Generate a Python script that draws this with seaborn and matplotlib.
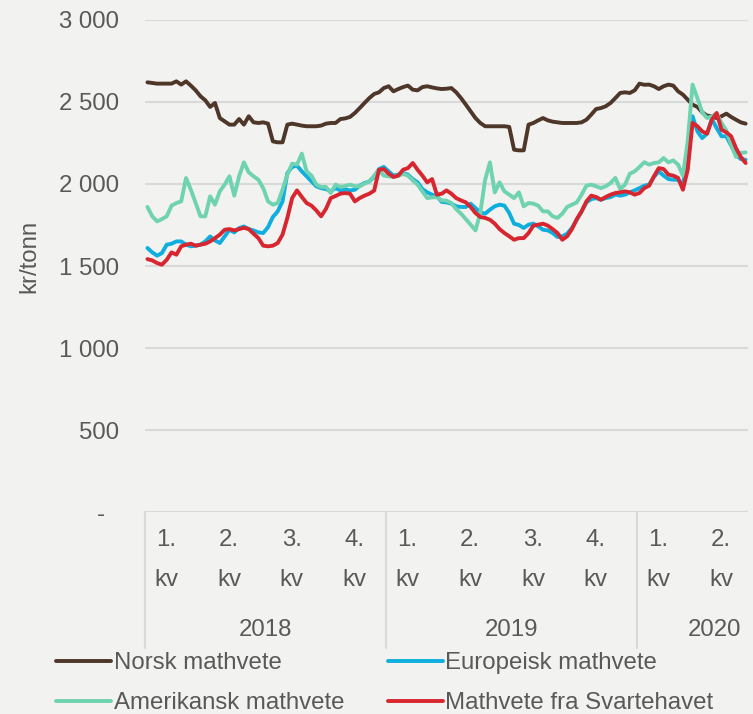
import numpy as np
import pandas as pd
import matplotlib
matplotlib.use("Agg")
import matplotlib.pyplot as plt
import matplotlib.transforms as mtransforms
from matplotlib.lines import Line2D
from matplotlib.ticker import FuncFormatter
import seaborn as sns

# Ukentlige priser, kr/tonn (lest av figuren)
aar = ["2018", "2019", "2020"]
uker_per_kvartal = [[13, 13, 13, 11], [13, 13, 13, 13], [13, 10]]

serier = ["Norsk mathvete", "Europeisk mathvete", "Amerikansk mathvete", "Mathvete fra Svartehavet"]
farger = ["#4e3629", "#0eaede", "#6fd3b1", "#d7262f"]

norsk = [
    2620, 2616, 2612, 2612, 2612, 2612, 2626, 2606, 2626, 2600, 2571, 2535, 2510, 2470, 2494, 2402, 2382, 2362, 2362, 2396, 2362,
    2413, 2376, 2372, 2376, 2368, 2260, 2254, 2254, 2362, 2368, 2362, 2356, 2352, 2352, 2352, 2356, 2368, 2372, 2372, 2396, 2400,
    2409, 2433, 2463, 2494, 2524, 2549, 2559, 2585, 2596, 2565, 2579, 2591, 2600, 2575, 2571, 2591, 2596, 2589, 2583, 2579,
    2581, 2585, 2559, 2524, 2484, 2443, 2402, 2372, 2352, 2352, 2352, 2352, 2352, 2348, 2209, 2205, 2205, 2362, 2372, 2388, 2402,
    2388, 2380, 2376, 2372, 2372, 2372, 2372, 2376, 2392, 2423, 2457, 2463, 2474, 2494, 2524, 2555, 2559, 2555, 2571, 2612, 2605,
    2606, 2596, 2579, 2596, 2606, 2600, 2565, 2545, 2514, 2484, 2470, 2437, 2417, 2413, 2402, 2413, 2429, 2409, 2392, 2376, 2368,
]
europeisk = [
    1610, 1583, 1563, 1579, 1630, 1636, 1650, 1650, 1630, 1620, 1624, 1630, 1650, 1680, 1656, 1640, 1680, 1721, 1705, 1731, 1741,
    1725, 1717, 1705, 1701, 1737, 1799, 1833, 1894, 2067, 2104, 2112, 2077, 2047, 2016, 1986, 1975, 1969, 1955, 1975, 1961, 1967,
    1961, 1965, 1990, 2006, 2016, 2043, 2091, 2104, 2077, 2051, 2057, 2067, 2057, 2030, 2010, 1969, 1949, 1935, 1925, 1891,
    1888, 1880, 1864, 1860, 1860, 1880, 1853, 1827, 1819, 1843, 1864, 1874, 1868, 1823, 1758, 1750, 1732, 1752, 1758, 1742, 1721,
    1717, 1701, 1677, 1681, 1697, 1732, 1782, 1833, 1888, 1908, 1914, 1904, 1914, 1920, 1935, 1929, 1935, 1949, 1961, 1975, 1990,
    1996, 2043, 2077, 2051, 2030, 2026, 2026, 1990, 2189, 2413, 2321, 2280, 2307, 2396, 2341, 2291, 2291, 2234, 2179, 2152, 2148,
]
amerikansk = [
    1860, 1803, 1772, 1786, 1803, 1868, 1884, 1894, 2036, 1965, 1884, 1803, 1803, 1925, 1874, 1955, 1996, 2047, 1929, 2047, 2132,
    2071, 2047, 2026, 1975, 1894, 1874, 1884, 1965, 2057, 2124, 2118, 2185, 2077, 2051, 1996, 1982, 1982, 1945, 1996, 1982, 1988,
    1996, 1986, 1986, 2002, 2016, 2051, 2087, 2051, 2047, 2043, 2051, 2061, 2051, 2022, 1996, 1955, 1914, 1918, 1920, 1900,
    1898, 1884, 1847, 1819, 1786, 1752, 1717, 1823, 2026, 2132, 1949, 2010, 1955, 1935, 1914, 1949, 1864, 1884, 1880, 1868, 1833,
    1833, 1803, 1793, 1819, 1860, 1874, 1888, 1935, 1990, 1996, 1986, 1975, 1986, 2006, 2037, 1969, 1996, 2063, 2077, 2104, 2133,
    2118, 2128, 2132, 2158, 2132, 2144, 2118, 2051, 2260, 2606, 2524, 2437, 2402, 2413, 2429, 2372, 2327, 2240, 2165, 2189, 2193,
]
svartehavet = [
    1542, 1534, 1518, 1508, 1538, 1583, 1569, 1620, 1630, 1636, 1624, 1630, 1636, 1650, 1670, 1691, 1721, 1725, 1717, 1725, 1733,
    1725, 1697, 1670, 1624, 1620, 1624, 1640, 1691, 1793, 1914, 1961, 1921, 1884, 1868, 1839, 1803, 1848, 1914, 1927, 1941, 1945,
    1941, 1894, 1914, 1929, 1941, 1960, 2087, 2091, 2063, 2043, 2051, 2087, 2097, 2128, 2087, 2051, 2010, 2030, 1935, 1941,
    1961, 1941, 1914, 1900, 1888, 1860, 1823, 1799, 1793, 1782, 1758, 1725, 1701, 1681, 1660, 1670, 1670, 1701, 1746, 1752, 1758,
    1746, 1725, 1701, 1660, 1681, 1725, 1786, 1833, 1894, 1929, 1921, 1904, 1921, 1935, 1945, 1949, 1955, 1949, 1935, 1945, 1975,
    1990, 2047, 2097, 2091, 2057, 2051, 2037, 1965, 2087, 2372, 2352, 2321, 2307, 2392, 2433, 2331, 2315, 2291, 2219, 2165, 2128,
]

BG = "#f2f2f0"
TXT = "#595959"
GRID = "#d9d9d9"
FS = 17.3

verdier = [norsk, europeisk, amerikansk, svartehavet]
n = len(norsk)
df = pd.concat(
    [pd.DataFrame({"uke": np.arange(n), "pris": v, "serie": s}) for s, v in zip(serier, verdier)],
    ignore_index=True,
)

sns.set_theme(style="white")
plt.rcParams["font.family"] = ["Liberation Sans", "DejaVu Sans"]

fig = plt.figure(figsize=(7.53, 7.14), dpi=100, facecolor=BG)
ax = fig.add_axes([0.1926, 0.2829, 0.8008, 0.6891])
ax.set_facecolor(BG)

sns.lineplot(data=df, x="uke", y="pris", hue="serie", hue_order=serier, palette=farger,
             linewidth=2.8, errorbar=None, legend=False, ax=ax)

ax.set_xlim(-0.5, n - 0.5)
ax.set_ylim(0, 3000)
ax.set_yticks(np.arange(0, 3001, 500))
ax.yaxis.set_major_formatter(FuncFormatter(lambda v, p: "-  " if v == 0 else f"{int(v):,}".replace(",", " ")))
ax.set_xticks([])
ax.set_xlabel("")
ax.tick_params(axis="y", length=0, pad=19, labelsize=FS, labelcolor=TXT)
ax.grid(axis="y", color=GRID, lw=1.5)
ax.set_axisbelow(True)
for sp in ax.spines.values():
    sp.set_visible(False)

ax.set_ylabel("kr/tonn", fontsize=FS, color=TXT)
ax.yaxis.set_label_coords(-0.174, 0.52)

# kategoriakse i to nivåer: kvartal og år
trans = mtransforms.blended_transform_factory(ax.transData, ax.transAxes)
start = 0
for j, (ar, kvartaler) in enumerate(zip(aar, uker_per_kvartal)):
    ar_start = start
    for q, lengde in enumerate(kvartaler, 1):
        ax.text(start - 0.5 + 4.4, -0.098, f"{q}.\nkv", transform=trans, ha="center", va="center",
                fontsize=FS, color=TXT, linespacing=2.05)
        start += lengde
    ax.plot([ar_start - 0.5, ar_start - 0.5], [0, -0.276], transform=trans, clip_on=False, color=GRID, lw=1.5)
    if j == len(aar) - 1:
        ax.text(start - 2.0, -0.24, ar, transform=trans, ha="right", va="center", fontsize=FS, color=TXT)
    else:
        ax.text((ar_start + start - 1) / 2, -0.24, ar, transform=trans, ha="center", va="center", fontsize=FS, color=TXT)

handles = [Line2D([], [], color=farger[i], lw=2.8) for i in range(4)]
rekkefolge = [0, 2, 1, 3]
fig.legend([handles[i] for i in rekkefolge], [serier[i] for i in rekkefolge], ncol=2, loc="center",
           bbox_to_anchor=(0.511, 0.043), frameon=False, fontsize=FS, labelcolor=TXT,
           handlelength=2.3, handletextpad=0.1, columnspacing=1.8, labelspacing=0.75, borderpad=0)

fig.savefig("out.png", dpi=100, facecolor=fig.get_facecolor())
